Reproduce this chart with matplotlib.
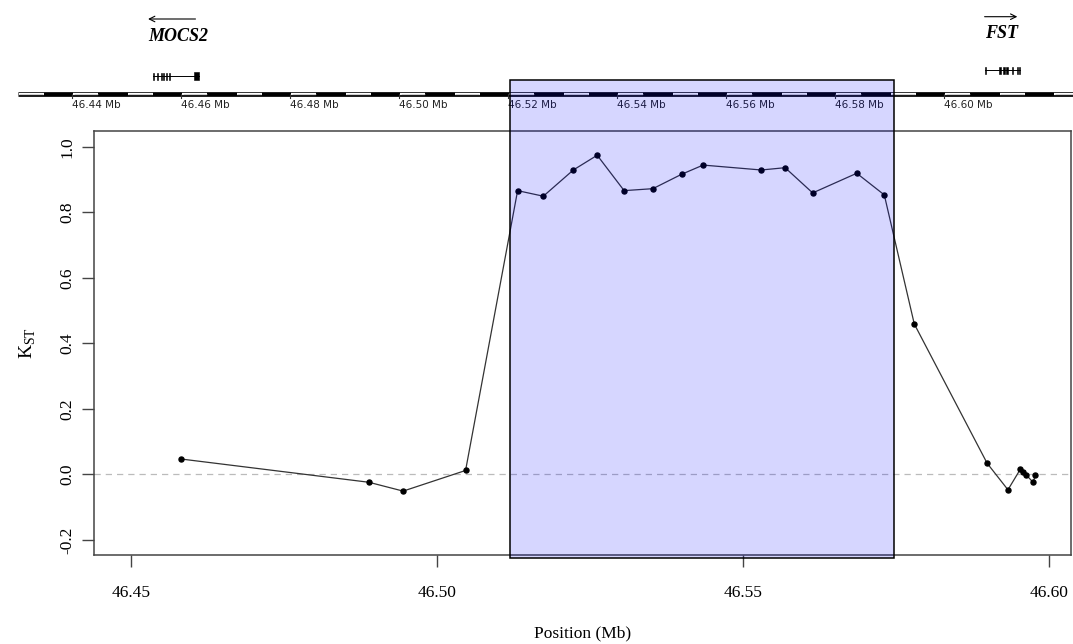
import numpy as np
import matplotlib
matplotlib.use("Agg")
import matplotlib.pyplot as plt
from matplotlib.patches import Rectangle
from matplotlib.transforms import blended_transform_factory

# KST scan positions (Mb) and values
pos_mb = [46.4582, 46.4889, 46.4945, 46.5047, 46.5132, 46.5174, 46.5223, 46.5262,
          46.5306, 46.5353, 46.5400, 46.5435, 46.5530, 46.5569, 46.5614, 46.5686,
          46.5731, 46.5780, 46.5899, 46.5933, 46.5953, 46.5958, 46.5963, 46.5974,
          46.5978]
kst = [0.047, -0.024, -0.051, 0.012, 0.866, 0.849, 0.929, 0.974,
       0.866, 0.872, 0.916, 0.944, 0.929, 0.936, 0.859, 0.919,
       0.853, 0.459, 0.034, -0.047, 0.015, 0.007, -0.002, -0.024,
       -0.002]

# highlighted window (main axis Mb)
hl_start, hl_end = 46.5120, 46.5747

# genome track (its own Mb scale)
track_lim = (46.42673, 46.62362)
track_ticks = [46.44, 46.46, 46.48, 46.50, 46.52, 46.54, 46.56, 46.58, 46.60]
genes = ["MOCS2", "FST"]
gene_strand = [-1, 1]
gene_span = [(46.4548, 46.4632), (46.6075, 46.6139)]
# exon blocks (start, end) in Mb
mocs2_exons = [(46.4548, 46.4550), (46.4556, 46.4558), (46.4563, 46.4565),
               (46.4567, 46.4569), (46.4572, 46.4574), (46.4578, 46.4580),
               (46.4624, 46.4632)]
fst_exons = [(46.6075, 46.6077), (46.6101, 46.6104), (46.6108, 46.6111),
             (46.6114, 46.6117), (46.6125, 46.6127), (46.6133, 46.6136),
             (46.6137, 46.6139)]
gene_exons = [mocs2_exons, fst_exons]

plt.rcParams['font.family'] = 'Liberation Serif'
plt.rcParams['mathtext.fontset'] = 'custom'
plt.rcParams['mathtext.rm'] = 'Liberation Serif'

fig = plt.figure(figsize=(10.73, 6.44), dpi=100)

# ---- main KST panel
ax = fig.add_axes([94/1073, 1-555/644, 977/1073, 424/644])
ax.axhline(0, color='#bbbbbb', lw=0.9, ls=(0, (5, 4)), zorder=1)
ax.plot(pos_mb, kst, color='#333333', lw=0.9, marker='o', ms=3.6,
        mfc='black', mec='black', zorder=3)
ax.set_xlim(46.444, 46.6036)
ax.set_ylim(-0.246, 1.048)
ax.set_xticks([46.45, 46.50, 46.55, 46.60])
ax.set_xticklabels(['46.45', '46.50', '46.55', '46.60'])
ax.set_yticks([-0.2, 0.0, 0.2, 0.4, 0.6, 0.8, 1.0])
ax.set_yticklabels(['-0.2', '0.0', '0.2', '0.4', '0.6', '0.8', '1.0'],
                   rotation=90, va='center')
ax.tick_params(axis='both', labelsize=12.5, length=8.5, width=1, color='#444444')
ax.tick_params(axis='x', pad=13)
ax.tick_params(axis='y', pad=5)
for s in ax.spines.values():
    s.set_color('#444444')
    s.set_linewidth(1.1)
ax.set_xlabel('Position (Mb)', fontsize=12.5, labelpad=18)
ax.set_ylabel(r'$\mathrm{K}_{\mathrm{ST}}$', fontsize=14, labelpad=15)

# ---- genome track on top
tax = fig.add_axes([0, 1-128/644, 1, 128/644])
tax.set_xlim(*track_lim)
tax.set_ylim(128, 0)
tax.axis('off')

line_y = 94
edges = np.arange(46.430, 46.6301, 0.005)
tax.plot([edges[0], edges[-1]], [line_y, line_y], color='black', lw=3.4,
         solid_capstyle='butt', clip_on=False)
for i in range(0, len(edges) - 1, 2):
    tax.plot([edges[i] + 0.0002, edges[i+1] - 0.0002], [line_y, line_y],
             color='white', lw=1.6, solid_capstyle='butt')
    tax.plot([edges[i] + 0.0003, edges[i+1] - 0.0003], [line_y, line_y],
             color='#aaaaaa', lw=0.4, solid_capstyle='butt')
for t in track_ticks:
    tax.plot([t, t], [line_y, line_y + 4], color='#333333', lw=0.8)
    tax.text(t, 104.5, '%.2f Mb' % t, fontsize=7.5, family='DejaVu Sans',
             color='#222222', ha='left', va='center')

# gene models, labels and strand arrows
for name, strand, (g0, g1), exons in zip(genes, gene_strand, gene_span, gene_exons):
    gy = 76 if name == 'MOCS2' else 70
    tax.plot([g0, g1], [gy, gy], color='black', lw=0.7)
    for e0, e1 in exons:
        w = max(e1 - e0, 0.0002)
        h = 8 if (e1 - e0) > 0.0005 else 7
        tax.add_patch(Rectangle((e0, gy - h/2), w, h, facecolor='black',
                                edgecolor='black', lw=0.4))
    if name == 'MOCS2':
        lx, ly, ay = g0 - 0.0009, 36.5, 19
        tail, head = g0 + 0.0078, g0 - 0.0009
    else:
        lx, ly, ay = g0 - 0.0001, 33, 16.7
        tail, head = g0 - 0.0001, g0 + 0.0059
    tax.text(lx, ly, name, fontsize=13, style='italic', weight='bold',
             ha='left', va='center')
    tax.annotate('', xy=(head, ay), xytext=(tail, ay),
                 arrowprops=dict(arrowstyle='->', lw=0.8, color='black',
                                 shrinkA=0, shrinkB=0, mutation_scale=10))

# highlighted window across both panels
tr = blended_transform_factory(ax.transData, fig.transFigure)
y0, y1 = 1 - 558/644, 1 - 79.5/644
fig.add_artist(Rectangle((hl_start, y0), hl_end - hl_start, y1 - y0, transform=tr,
                         facecolor='#0000ff', alpha=0.16, edgecolor='none', zorder=5))
fig.add_artist(Rectangle((hl_start, y0), hl_end - hl_start, y1 - y0, transform=tr,
                         fill=False, edgecolor='black', lw=1.1, zorder=6))

fig.savefig('out.png', dpi=100)
